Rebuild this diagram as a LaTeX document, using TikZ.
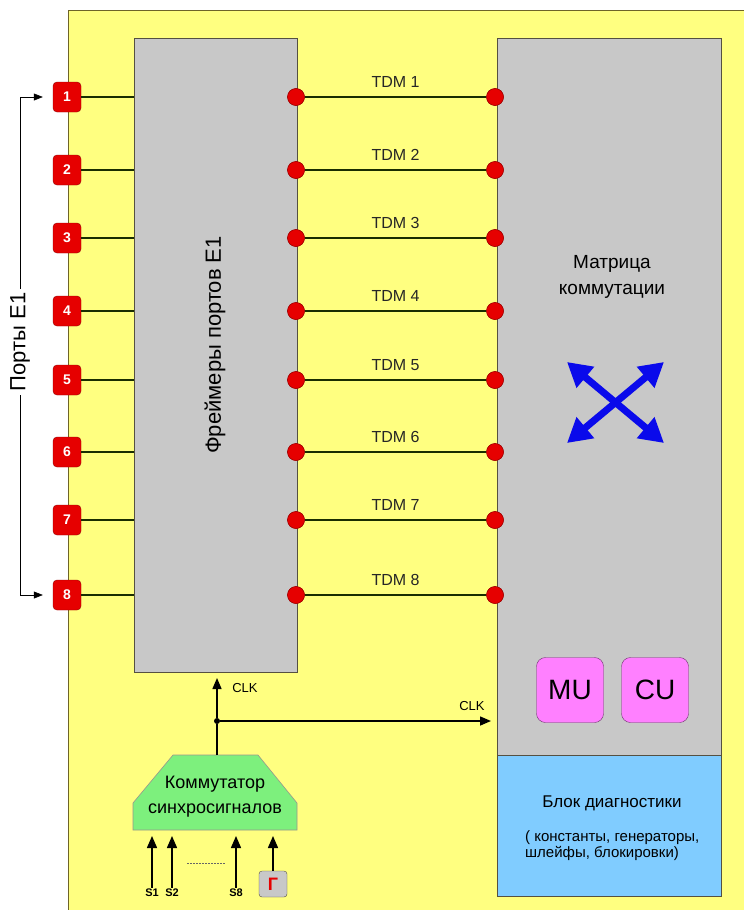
\documentclass[tikz,border=0pt]{standalone}
\usepackage{fontspec}
\setmainfont{Liberation Sans}
\usetikzlibrary{arrows.meta,calc}
\definecolor{bgyellow}{RGB}{255,255,128}
\definecolor{framecol}{RGB}{110,100,40}
\definecolor{boxgray}{RGB}{200,200,200}
\definecolor{boxedge}{RGB}{85,80,65}
\definecolor{diagblue}{RGB}{128,204,255}
\definecolor{portred}{RGB}{230,0,0}
\definecolor{portedge}{RGB}{150,0,0}
\definecolor{linecol}{RGB}{25,45,0}
\definecolor{kgreen}{RGB}{125,240,125}
\definecolor{mupink}{RGB}{255,128,255}
\definecolor{muedge}{RGB}{110,50,110}
\definecolor{xblue}{RGB}{10,10,235}
\tikzset{
  graybox/.style={draw=boxedge, fill=boxgray, line width=0.8pt, inner sep=0pt, outer sep=0pt, anchor=north west},
  port/.style={draw=portedge, fill=portred, rounded corners=4pt, minimum width=28pt, minimum height=30pt, inner sep=0pt, text=white, font=\fontsize{14}{16}\selectfont\bfseries},
  tdmdot/.style={circle, draw=portedge, fill=portred, minimum size=17pt, inner sep=0pt},
  link/.style={draw=linecol, line width=2pt},
  tdm/.style={draw=linecol, line width=2.5pt},
  tdmlabel/.style={font=\fontsize{16}{18}\selectfont, text=black!85},
  clkarrow/.style={draw=black, line width=1.5pt, -{Triangle[width=9pt,length=11pt]}},
  sarrow/.style={draw=black, line width=1.5pt, -{Triangle[width=10pt,length=12pt]}, shorten >=6pt},
  unitbox/.style={draw=muedge, fill=mupink, rounded corners=9pt, minimum width=67pt, minimum height=65pt, inner sep=0pt, font=\fontsize{28}{30}\selectfont},
  xarrow/.style={draw=xblue, line width=7pt, {Triangle[width=26pt,length=24pt]}-{Triangle[width=26pt,length=24pt]}},
  slabel/.style={font=\fontsize{11}{12}\selectfont\bfseries, inner sep=1pt}
}
\begin{document}
\begin{tikzpicture}[x=1pt,y=-1pt]
\useasboundingbox (0,0) rectangle (744,910);
\fill[white] (0,0) rectangle (744,910);
\fill[bgyellow] (68,10) rectangle (744,910);
\draw[framecol, line width=0.8pt] (68,910) -- (68,10) -- (744,10);
% main blocks
\node[graybox, minimum width=163pt, minimum height=634pt] (fr) at (134,38) {};
\node[graybox, minimum width=224pt, minimum height=717pt] (mx) at (497,38) {};
\node[graybox, fill=diagblue, minimum width=224pt, minimum height=141pt] (dg) at (497,755) {};
\node[rotate=90, font=\fontsize{22}{24}\selectfont] (frl) at (215,345) {Фреймеры портов E1};
\node[align=center, font=\fontsize{19}{26}\selectfont] (mxl) at (612,277) {Матрица\\коммутации};
% ports, dots, TDM lines
\foreach \i/\y in {1/97,2/170,3/238,4/311,5/380,6/452,7/520,8/595}{
  \node[port] (p\i) at (67,\y) {\i};
  \draw[link] (p\i.east) -- (p\i.east -| fr.west);
  \node[tdmdot] (l\i) at (296,\y) {};
  \node[tdmdot] (r\i) at (495,\y) {};
  \draw[tdm] (l\i) -- (r\i) node[midway, above=5pt, tdmlabel] {TDM \i};
  \node[tdmdot] at (l\i) {};
  \node[tdmdot] at (r\i) {};
}
% ports bracket
\coordinate (bt) at (20,97);
\coordinate (bb) at (20,595);
\draw[black, line width=0.6pt] (bt) -- (bb);
\draw[black, line width=0.6pt, -{Triangle[width=7pt,length=9pt]}, shorten >=10pt] (bt) -- (p1.west);
\draw[black, line width=0.6pt, -{Triangle[width=7pt,length=9pt]}, shorten >=10pt] (bb) -- (p8.west);
\node[rotate=90, fill=white, font=\fontsize{22}{24}\selectfont, inner sep=4pt] (pl) at (20,342) {Порты E1};
% switching arrows
\coordinate (xa) at (567,362);
\coordinate (xb) at (664,443);
\coordinate (xc) at (664,362);
\coordinate (xd) at (567,443);
\draw[xarrow] (xa) -- (xb);
\draw[xarrow] (xc) -- (xd);
% MU CU
\node[unitbox] (mu) at (570,690) {MU};
\node[unitbox] (cu) at (655,690) {CU};
% diagnostics text
\node[font=\fontsize{17}{20}\selectfont] (dgt) at (612,803) {Блок диагностики};
\node[anchor=west, align=left, font=\fontsize{15}{16}\selectfont, inner sep=0pt] (dgs) at (525,846) {( константы, генераторы,\\шлейфы, блокировки)};
% sync switch
\fill[kgreen, draw=boxedge!60, line width=0.6pt] (173,755) -- (258,755) -- (297,803) -- (297,830) -- (133,830) -- (133,803) -- cycle;
\node[align=center, font=\fontsize{18}{25}\selectfont] (ks) at (215,797) {Коммутатор\\синхросигналов};
\coordinate (ktop) at (217,755);
\coordinate (kb) at (215,830);
\node[circle, fill=black, inner sep=0pt, minimum size=6pt] (j) at (217,721) {};
\draw[black, line width=1.5pt] (ktop) -- (j);
\draw[clkarrow, shorten >=6pt] (j) -- (j |- fr.south);
\draw[clkarrow, shorten >=6pt] (j) -- (j -| mx.west);
\node[font=\fontsize{13}{14}\selectfont] (clk1) at (245,688) {CLK};
\node[font=\fontsize{13}{14}\selectfont] (clk2) at (472,706) {CLK};
% inputs
\node[slabel] (s1) at (152,893) {S1};
\node[slabel] (s2) at (172,893) {S2};
\node[slabel] (s8) at (236,893) {S8};
\node[draw=boxedge, fill=boxgray, rounded corners=3pt, minimum width=28pt, minimum height=26pt, inner sep=0pt, text=portred, font=\fontsize{18}{20}\selectfont\bfseries] (g) at (273,884) {Г};
\draw[sarrow] (s1.north) -- (s1.north |- kb);
\draw[sarrow] (s2.north) -- (s2.north |- kb);
\draw[sarrow] (s8.north) -- (s8.north |- kb);
\draw[sarrow] (g.north) -- (g.north |- kb);
\draw[black!60, line width=0.6pt, dash pattern=on 2pt off 1pt] (187,863) -- (225,863);
\end{tikzpicture}
\end{document}
